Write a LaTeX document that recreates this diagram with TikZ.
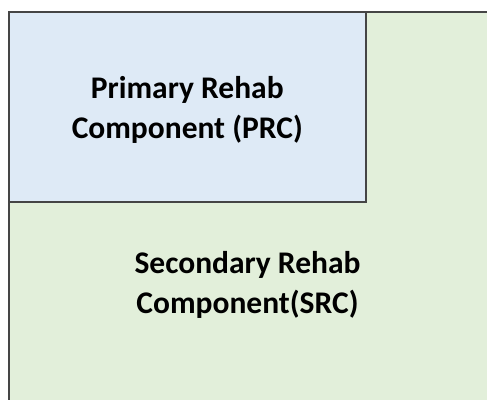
\documentclass[tikz,border=0pt]{standalone}
\usepackage{fontspec}
\setmainfont{Carlito}
\definecolor{prcfill}{HTML}{DEEAF6}
\definecolor{srcfill}{HTML}{E2EFDA}
\definecolor{edge}{HTML}{454545}
\begin{document}
\begin{tikzpicture}[x=1pt,y=-1pt,
      box/.style={draw=edge,line width=1.6pt,inner sep=0pt,anchor=north west},
      boxtext/.style={font=\bfseries\fontsize{31.5}{40}\selectfont,align=center}]
      \useasboundingbox (0,0) rectangle (487,399);
      \begin{scope}
        \clip (0,0) rectangle (487,399);
        \node[box,fill=srcfill,minimum width=520pt,minimum height=420pt] (src) at (8,11) {};
      \end{scope}
      \node[box,fill=prcfill,minimum width=357pt,minimum height=190pt] (prc) at (8,11) {};
      \node[boxtext] (prctext) at ([yshift=-3pt]prc.center) {Primary Rehab\\Component (PRC)};
      \node[boxtext] (srctext) at (247.5,285) {Secondary Rehab\\Component(SRC)};
    \end{tikzpicture}
\end{document}
